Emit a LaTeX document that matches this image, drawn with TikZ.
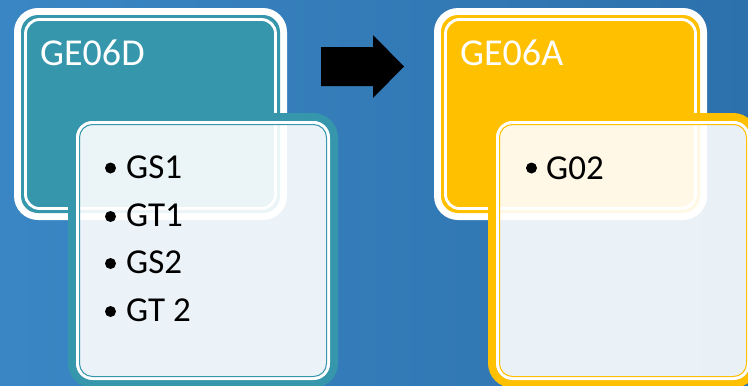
\documentclass[tikz,border=0pt]{standalone}
\usepackage{fontspec}
\setmainfont{Carlito}
\definecolor{bgL}{HTML}{3A86C4}
\definecolor{bgM}{HTML}{4592CE}
\definecolor{bgR}{HTML}{2C71AC}
\definecolor{boxteal}{HTML}{3697AC}
\definecolor{boxgold}{HTML}{FFC000}
\begin{document}
\begin{tikzpicture}[x=1pt,y=-1pt,
  title/.style={text=white, font=\fontsize{38}{42}\selectfont, anchor=base west, inner sep=0pt},
  item/.style={text=black, font=\fontsize{35}{40}\selectfont, anchor=base west, inner sep=0pt},
  dot/.style={circle, fill=black, inner sep=0pt, minimum size=11pt}]
\useasboundingbox (0,0) rectangle (748,386);
\begin{scope}
\clip (0,0) rectangle (748,386);
\shade[left color=bgL, middle color=bgM, right color=bgR] (0,0) rectangle (748,386);
% boxes
\foreach \dx/\col in {0/boxteal, 420/boxgold}{
  \begin{scope}[xshift=\dx pt]
    % top box
    \fill[white, rounded corners=24] (14,8) rectangle (287,220);
    \fill[\col, rounded corners=17] (21,15) rectangle (280,213);
    \draw[white, line width=2.8, rounded corners=14] (25.5,19.5) rectangle (275.5,208.5);
    % bottom box
    \draw[\col, line width=8, rounded corners=21] (72,117) rectangle (334,384);
    \fill[white, opacity=0.9, rounded corners=17] (76,121) rectangle (330,380);
    \draw[white, line width=2.8, rounded corners=15] (77.5,122.5) rectangle (328.5,378.5);
    \draw[\col, line width=1, rounded corners=13] (79.5,124.5) rectangle (326.5,376.5);
  \end{scope}
}
% arrow
\fill[black] (321,47) -- (373,47) -- (373,35) -- (404,66.5) -- (373,98) -- (373,86) -- (321,86) -- cycle;
% texts
\node[title] (t1) at (40,65.5) {GE06D};
\node[title] (t2) at (460,65.5) {GE06A};
\node[dot] (d1) at (110.5,168) {};
\node[item] (i1) at (126,178.5) {GS1};
\node[dot] (d2) at (110.5,216.5) {};
\node[item] (i2) at (126,226.5) {GT1};
\node[dot] (d3) at (110.5,263.5) {};
\node[item] (i3) at (126,273.5) {GS2};
\node[dot] (d4) at (110.5,311.5) {};
\node[item] (i4) at (126,321.5) {GT 2};
\node[dot] (d5) at (531.5,168) {};
\node[item] (i5) at (546,179) {G02};
\end{scope}
\end{tikzpicture}
\end{document}
